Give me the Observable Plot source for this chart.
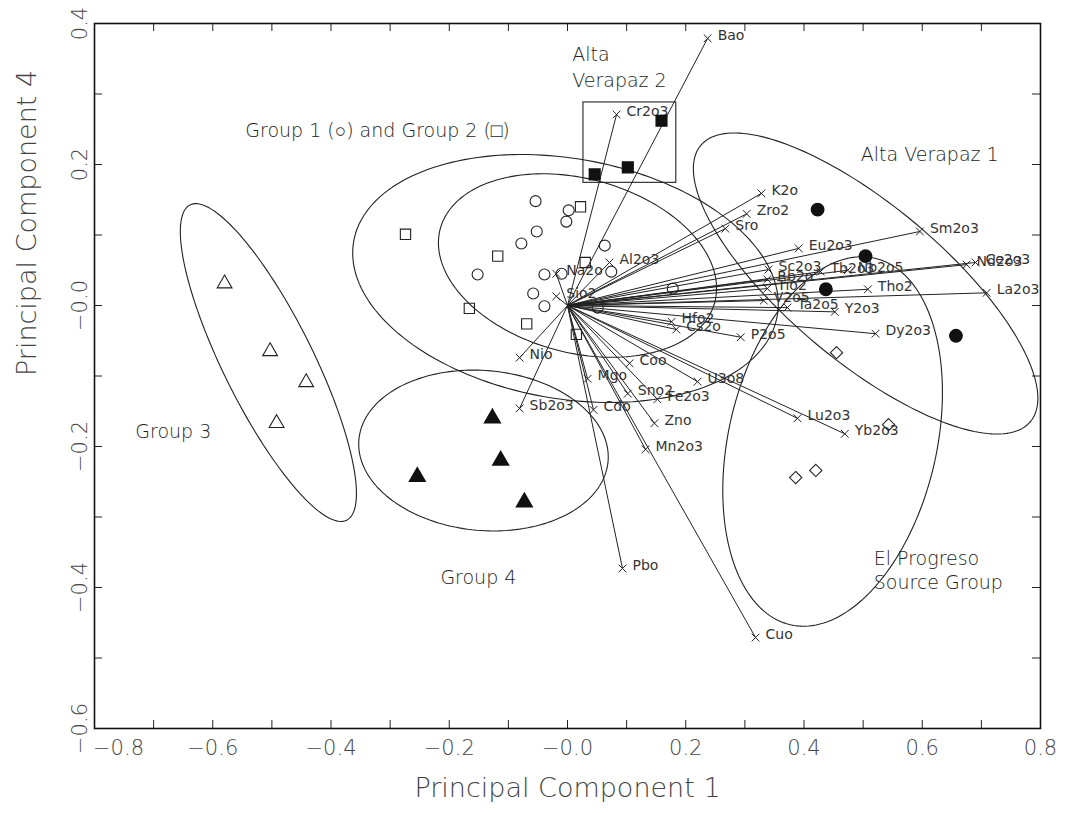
<!DOCTYPE html>
<html><head><meta charset="utf-8">
<script src="https://cdn.jsdelivr.net/npm/d3@7"></script>
<script src="https://cdn.jsdelivr.net/npm/@observablehq/plot@0.6"></script>
<style>body{margin:0;background:#fff}svg{display:block}</style>
</head><body><div id="chart"></div>
<script>
// Axis ticks
const xTickLabels = [-0.6,-0.4,-0.2,0,0.2,0.4,0.6,0.8];
const xEdgeTickLabel = [-0.8];
const yTickLabels = [-0.6,-0.4,-0.2,0,0.2,0.4];
const xMinorTicks = [-0.7,-0.6,-0.5,-0.4,-0.3,-0.2,-0.1,0,0.1,0.2,0.3,0.4,0.5,0.6,0.7];
const yMinorTicks = [-0.5,-0.4,-0.3,-0.2,-0.1,0,0.1,0.2,0.3];

// Loading vectors (biplot arrows)
const vecNames = ["Bao","Cr2o3","K2o","Zro2","Sro","Sm2o3","Eu2o3","Al2o3","Nd2o3","Ce2o3","La2o3","Tho2","Sc2o3","Tb2o3","Nb2o5","Rb2o","Tio2","V2o5","Ta2o5","Y2o3","Dy2o3","Hfo2","Cs2o","P2o5","U3o8","Lu2o3","Yb2o3","Coo","Mgo","Sno2","Fe2o3","Cdo","Zno","Mn2o3","Nio","Sb2o3","Pbo","Cuo","Na2o","Sio2"];
const vecX = [0.237,0.083,0.328,0.303,0.267,0.596,0.391,0.071,0.675,0.690,0.709,0.508,0.340,0.428,0.474,0.338,0.338,0.332,0.372,0.452,0.521,0.176,0.184,0.293,0.220,0.389,0.469,0.105,0.034,0.102,0.152,0.044,0.147,0.132,-0.081,-0.081,0.093,0.318,-0.019,-0.019];
const vecY = [0.379,0.271,0.159,0.130,0.109,0.105,0.081,0.061,0.058,0.061,0.018,0.023,0.051,0.048,0.050,0.037,0.024,0.007,-0.003,-0.009,-0.040,-0.023,-0.034,-0.045,-0.108,-0.160,-0.182,-0.082,-0.104,-0.125,-0.133,-0.148,-0.167,-0.204,-0.074,-0.146,-0.373,-0.471,0.045,0.013];

// Sample scores
const g1X = [-0.054,0.002,-0.002,-0.052,-0.078,0.063,-0.152,-0.039,-0.010,0.074,-0.058,-0.039,0.051,0.178];
const g1Y = [0.148,0.135,0.119,0.105,0.088,0.085,0.044,0.044,0.045,0.048,0.017,-0.001,-0.003,0.024];
const g2X = [0.022,-0.274,-0.118,0.030,-0.166,-0.069,0.015];
const g2Y = [0.140,0.101,0.070,0.061,-0.004,-0.026,-0.041];
const g3X = [-0.580,-0.503,-0.442,-0.492];
const g3Y = [0.031,-0.065,-0.109,-0.167];
const g4X = [-0.127,-0.113,-0.254,-0.073];
const g4Y = [-0.160,-0.220,-0.243,-0.279];
const av2X = [0.046,0.102,0.159];
const av2Y = [0.186,0.196,0.262];
const av1X = [0.423,0.504,0.437,0.657];
const av1Y = [0.136,0.070,0.023,-0.043];
const epX = [0.455,0.543,0.386,0.420];
const epY = [-0.067,-0.169,-0.244,-0.234];

// Group ellipses: centre and two conjugate semi-diameters (data units)
const ellNames = ["Group 1+2","Group 1","Group 3","Group 4","Alta Verapaz 1","El Progreso"];
const ellCx = [-0.0034,0.0169,-0.5059,-0.1421,0.5042,0.4484];
const ellCy = [0.0383,0.0567,-0.0809,-0.2057,0.0312,-0.1929];
const ellUx = [0.3582,0.2321,0.1324,0.2107,0.2787,0.0716];
const ellUy = [-0.0529,-0.0522,-0.2236,-0.0155,-0.1960,0.2599];
const ellVx = [-0.0352,-0.0381,-0.0682,-0.0118,-0.0849,0.1714];
const ellVy = [-0.1677,-0.1192,-0.0284,-0.1130,-0.0847,-0.0332];

// Alta Verapaz 2 box
const boxX1 = [0.027], boxX2 = [0.184], boxY1 = [0.174], boxY2 = [0.288];

// Annotations
const noteText = ["Alta","Verapaz 2","Group 1 (○) and Group 2 (□)","Alta Verapaz 1","Group 3","Group 4","El Progreso","Source Group"];
const noteX = [0.008,0.008,-0.545,0.496,-0.731,-0.215,0.518,0.518];
const noteY = [0.355,0.319,0.248,0.213,-0.180,-0.387,-0.359,-0.394];

const pts = (xs, ys) => xs.map((x, i) => ({x, y: ys[i]}));
const vecs = vecNames.map((name, i) => ({name, x: vecX[i], y: vecY[i]}));
const ellPts = [];
ellNames.forEach((name, k) => {
  for (let j = 0; j <= 180; j++) {
    const t = 2 * Math.PI * j / 180;
    ellPts.push({name,
      x: ellCx[k] + ellUx[k] * Math.cos(t) + ellVx[k] * Math.sin(t),
      y: ellCy[k] + ellUy[k] * Math.cos(t) + ellVy[k] * Math.sin(t)});
  }
});
const notes = noteText.map((t, i) => ({t, x: noteX[i], y: noteY[i]}));
const box = [{x1: boxX1[0], x2: boxX2[0], y1: boxY1[0], y2: boxY2[0]}];

const W = 1066, H = 813, mL = 94, mR = 26, mT = 23, mB = 85;
const innerW = W - mL - mR, innerH = H - mT - mB;
const fmt = d => (d <= 0 ? "\u2212" : "") + Math.abs(d).toFixed(1);
const FONT = "DejaVu Sans";
const INK = "#222";
const TW = 200;

const chart = Plot.plot({
  width: W, height: H,
  marginLeft: mL, marginRight: mR, marginTop: mT, marginBottom: mB,
  style: {fontFamily: FONT, background: "#fff", color: "#444"},
  x: {domain: [-0.8, 0.8]},
  y: {domain: [-0.6, 0.4]},
  marks: [
    Plot.axisX(xTickLabels, {tickSize: 0, tickPadding: 12, tickFormat: fmt, fontSize: 21, fontWeight: TW, fill: "#444", label: null}),
    Plot.axisX(xEdgeTickLabel, {tickSize: 0, tickPadding: 12, tickFormat: fmt, fontSize: 21, fontWeight: TW, fill: "#444", label: null, dx: 24}),
    Plot.axisY(yTickLabels, {tickSize: 0, tickPadding: 8, tickRotate: -90, tickFormat: fmt, fontSize: 21, fontWeight: TW, fill: "#444", label: null}),
    Plot.text(["Principal Component 1"], {frameAnchor: "bottom", dy: 68, fontSize: 27, fontWeight: TW, fill: "#444", text: d => d}),
    Plot.text(["Principal Component 4"], {frameAnchor: "left", dx: -67, rotate: -90, fontSize: 27, fontWeight: TW, fill: "#444", text: d => d}),
    Plot.tickX(xMinorTicks, {x: d => d, insetTop: innerH - 8, stroke: INK}),
    Plot.tickX(xMinorTicks, {x: d => d, insetBottom: innerH - 8, stroke: INK}),
    Plot.tickY(yMinorTicks, {y: d => d, insetRight: innerW - 8, stroke: INK}),
    Plot.tickY(yMinorTicks, {y: d => d, insetLeft: innerW - 8, stroke: INK}),
    Plot.line(ellPts, {x: "x", y: "y", z: "name", stroke: INK, strokeWidth: 1.1}),
    Plot.rect(box, {x1: "x1", x2: "x2", y1: "y1", y2: "y2", stroke: INK, fill: "none", strokeWidth: 1.1}),
    Plot.link(vecs, {x1: () => 0, y1: () => 0, x2: "x", y2: "y", stroke: INK, strokeWidth: 1}),
    Plot.dot(vecs, {x: "x", y: "y", symbol: "times", r: 3.6, stroke: INK, strokeWidth: 1}),
    Plot.text(vecs, {x: "x", y: "y", text: "name", textAnchor: "start", dx: 10, dy: -3, fontSize: 14, fill: "#333"}),
    Plot.dot(pts(g1X, g1Y), {x: "x", y: "y", symbol: "circle", r: 5.5, stroke: INK, strokeWidth: 1.1, fill: "none"}),
    Plot.dot(pts(g2X, g2Y), {x: "x", y: "y", symbol: "square", r: 5.8, stroke: INK, strokeWidth: 1.1, fill: "none"}),
    Plot.dot(pts(g3X, g3Y), {x: "x", y: "y", symbol: "triangle", r: 5.5, stroke: INK, strokeWidth: 1.1, fill: "none"}),
    Plot.dot(pts(g4X, g4Y), {x: "x", y: "y", symbol: "triangle", r: 5.8, fill: "#111", stroke: "#111"}),
    Plot.dot(pts(av2X, av2Y), {x: "x", y: "y", symbol: "square", r: 6, fill: "#111", stroke: "#111"}),
    Plot.dot(pts(av1X, av1Y), {x: "x", y: "y", symbol: "circle", r: 6.2, fill: "#111", stroke: "#111"}),
    Plot.dot(pts(epX, epY), {x: "x", y: "y", symbol: "diamond2", r: 5.5, stroke: INK, strokeWidth: 1.1, fill: "none"}),
    Plot.text(notes, {x: "x", y: "y", text: "t", textAnchor: "start", fontSize: 19, fontWeight: TW, fill: "#222"}),
    Plot.frame({stroke: "#111", strokeWidth: 1.6})
  ]
});
document.getElementById("chart").appendChild(chart);
</script>
</body></html>
